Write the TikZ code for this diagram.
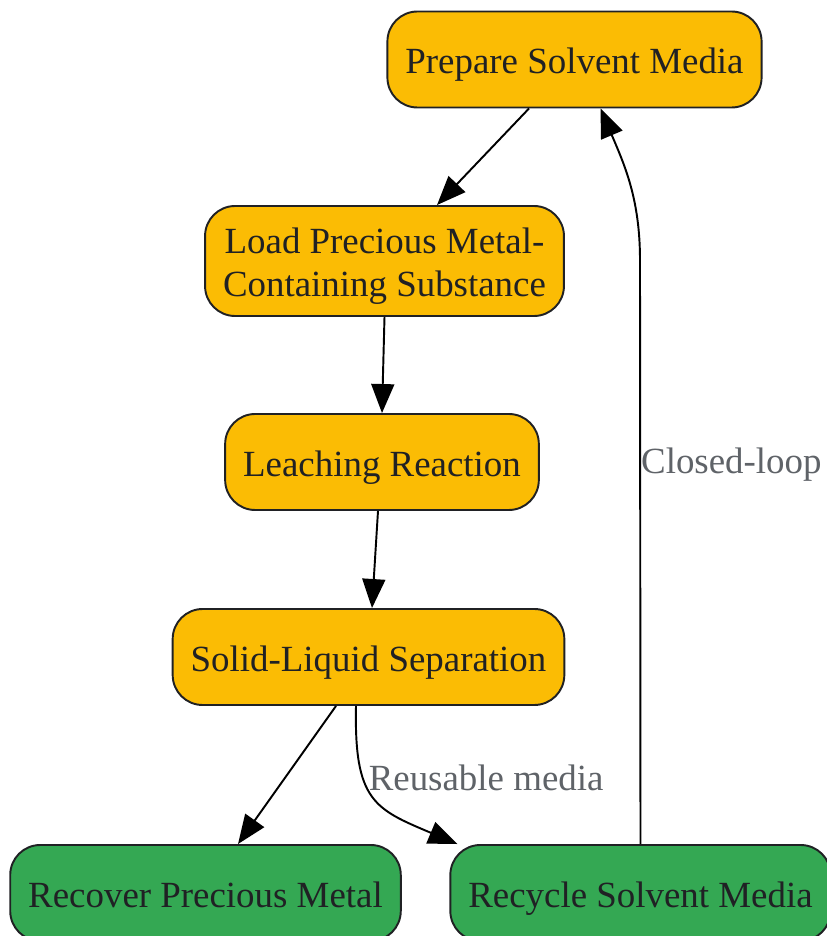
\documentclass[tikz,border=0pt]{standalone}
\usepackage{fontspec}
\setmainfont{Liberation Serif}
\usetikzlibrary{arrows.meta}

\definecolor{stepyellow}{HTML}{FBBC04}
\definecolor{stepgreen}{HTML}{34A853}
\definecolor{inkdark}{HTML}{202124}
\definecolor{labelgray}{HTML}{5F6368}

\begin{document}
\begin{tikzpicture}[color=black]
    \tikzset{
      processnode/.style={text=inkdark, draw=inkdark, line width=1.1pt, rounded corners=0.6cm,
        minimum height=1.92cm, inner xsep=0.36cm, align=center,
        text height=0.73cm, text depth=0.16cm,
        font=\fontsize{21}{24.5}\selectfont},
      stagenode/.style={processnode, fill=stepyellow},
      outnode/.style={processnode, fill=stepgreen},
      network/.style={->, line width=1.1pt, > = {Triangle[length=0.58cm, width=0.46cm]}},
      edgelabel/.style={text=labelgray, font=\fontsize{21}{24.5}\selectfont}
    }
    \useasboundingbox (0,0) rectangle (16.54,18.72);

    \draw (11.49,17.53) node (prep) [stagenode] {Prepare Solvent Media};
    \draw (7.69,13.50) node (load) [stagenode, minimum height=2.2cm, text height=, text depth=]
      {\rule{0pt}{0.73cm}Load Precious Metal-\\Containing Substance};
    \draw (7.64,9.48) node (leach) [stagenode] {Leaching Reaction};
    \draw (7.37,5.58) node (solid) [stagenode] {Solid-Liquid Separation};
    \draw (4.11,0.86) node (recover) [outnode] {Recover Precious Metal};
    \draw (12.81,0.86) node (recycle) [outnode] {Recycle Solvent Media};
    \coordinate (bend) at (12.80,13.52);

    \draw[network] ([xshift=-0.91cm]prep.south) -- ([xshift=1.05cm]load.north);
    \draw[network] (load.south) -- (leach.north);
    \draw[network] ([xshift=-0.08cm]leach.south) -- ([xshift=0.07cm]solid.north);
    \draw[network] ([xshift=-0.65cm]solid.south) -- ([xshift=0.65cm]recover.north);
    \draw[network] ([xshift=-0.25cm]solid.south) .. controls +(-0.04,-1.9) and +(-1.66,0.7) ..
      node [edgelabel, pos=0.4, anchor=west, xshift=-0.1cm, yshift=0.15cm] {Reusable media}
      ([xshift=-3.66cm]recycle.north);
    % loop back to the start
    \draw[network] (recycle.north) -- node [edgelabel, pos=0.65, anchor=west, inner sep=0pt] {Closed-loop} (bend)
      to[out=90, in=-67] ([xshift=0.52cm]prep.south);

  \end{tikzpicture}
\end{document}
